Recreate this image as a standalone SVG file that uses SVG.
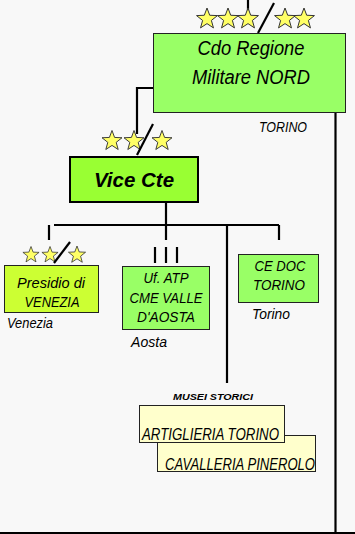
<svg xmlns="http://www.w3.org/2000/svg" width="355" height="534" viewBox="0 0 355 534">
<defs>
<style>
.t{font-family:"Liberation Sans",Arial,sans-serif;font-style:italic;fill:#000}
.ln{stroke:#000;stroke-width:2.2;fill:none}
.star{fill:#ffff66;stroke:#333;stroke-width:0.9}
.box{stroke:#222;stroke-width:1}
</style>
<path id="st" d="M0,-10 L2.47,-3.4 L9.51,-3.09 L3.99,1.3 L5.88,8.09 L0,4.2 L-5.88,8.09 L-3.99,1.3 L-9.51,-3.09 L-2.47,-3.4 Z"/>
</defs>
<rect width="355" height="534" fill="#f8f8f8"/>
<g id="connectors">
<line class="ln" x1="248" y1="0" x2="248" y2="12"/>
<polyline class="ln" points="153,88 137,88 137,134"/>
<line class="ln" x1="335.5" y1="113" x2="335.5" y2="534" stroke-width="3"/>
<line class="ln" x1="166" y1="203" x2="166" y2="240"/>
<line class="ln" x1="54" y1="225" x2="279" y2="225"/>
<line class="ln" x1="279" y1="225" x2="279" y2="240"/>
<line class="ln" x1="49" y1="225" x2="49" y2="240"/>
<line class="ln" x1="227" y1="225" x2="227" y2="383"/>
<line class="ln" x1="155" y1="247" x2="155" y2="263"/>
<line class="ln" x1="166" y1="247" x2="166" y2="263"/>
<line class="ln" x1="177" y1="247" x2="177" y2="263"/>
<line class="ln" x1="0" y1="533" x2="355" y2="533"/>
</g>
<g id="cdo">
<use href="#st" class="star" transform="translate(207,19) scale(1.1)"/>
<use href="#st" class="star" transform="translate(228,19) scale(1.1)"/>
<use href="#st" class="star" transform="translate(248,19) scale(1.1)"/>
<line class="ln" x1="258" y1="33" x2="274" y2="3"/>
<use href="#st" class="star" transform="translate(285,19) scale(1.1)"/>
<use href="#st" class="star" transform="translate(304,19) scale(1.1)"/>
<rect class="box" x="153.5" y="33.5" width="192" height="79" fill="#99ff66"/>
<text class="t" x="251" y="55" font-size="20" text-anchor="middle" textLength="107" lengthAdjust="spacingAndGlyphs">Cdo Regione</text>
<text class="t" x="251" y="84" font-size="20" text-anchor="middle" textLength="118" lengthAdjust="spacingAndGlyphs">Militare NORD</text>
<text class="t" x="259" y="132" font-size="14" textLength="48" lengthAdjust="spacingAndGlyphs">TORINO</text>
</g>
<g id="vice">
<use href="#st" class="star" transform="translate(112,141) scale(1.05)"/>
<use href="#st" class="star" transform="translate(134,141) scale(1.05)"/>
<line class="ln" x1="137" y1="155" x2="153" y2="124"/>
<use href="#st" class="star" transform="translate(162,141) scale(1.05)"/>
<rect x="70" y="157" width="128" height="45" fill="#99ff33" stroke="#000" stroke-width="2"/>
<text class="t" x="134" y="187" font-size="20.5" font-weight="bold" text-anchor="middle">Vice Cte</text>
</g>
<g id="presidio">
<use href="#st" class="star" transform="translate(31,255) scale(0.85)"/>
<use href="#st" class="star" transform="translate(50,255) scale(0.85)"/>
<line class="ln" x1="54" y1="263" x2="70" y2="242"/>
<use href="#st" class="star" transform="translate(77,255) scale(0.9)"/>
<rect class="box" x="4.5" y="265.5" width="94" height="47" fill="#ccff33"/>
<text class="t" x="51" y="288" font-size="15.5" text-anchor="middle" textLength="68" lengthAdjust="spacingAndGlyphs">Presidio di</text>
<text class="t" x="52" y="307" font-size="15.5" text-anchor="middle" textLength="55" lengthAdjust="spacingAndGlyphs">VENEZIA</text>
<text class="t" x="7" y="328" font-size="14.5" textLength="46" lengthAdjust="spacingAndGlyphs">Venezia</text>
</g>
<g id="atp">
<rect class="box" x="122.5" y="266.5" width="87" height="63" fill="#99ff66"/>
<text class="t" x="166" y="283" font-size="15.5" text-anchor="middle" textLength="45" lengthAdjust="spacingAndGlyphs">Uf. ATP</text>
<text class="t" x="166" y="303" font-size="15.5" text-anchor="middle" textLength="73" lengthAdjust="spacingAndGlyphs">CME VALLE</text>
<text class="t" x="166" y="322" font-size="15.5" text-anchor="middle" textLength="58" lengthAdjust="spacingAndGlyphs">D'AOSTA</text>
<text class="t" x="131" y="347" font-size="14.5" textLength="36" lengthAdjust="spacingAndGlyphs">Aosta</text>
</g>
<g id="cedoc">
<rect class="box" x="238.5" y="254.5" width="80" height="48" fill="#99ff66"/>
<text class="t" x="280" y="271" font-size="15.5" text-anchor="middle" textLength="51" lengthAdjust="spacingAndGlyphs">CE DOC</text>
<text class="t" x="279" y="290" font-size="15.5" text-anchor="middle" textLength="52" lengthAdjust="spacingAndGlyphs">TORINO</text>
<text class="t" x="252" y="319" font-size="14.5" textLength="38" lengthAdjust="spacingAndGlyphs">Torino</text>
</g>
<g id="musei">
<text class="t" x="173" y="400" font-size="9.5" font-weight="bold" textLength="80" lengthAdjust="spacingAndGlyphs">MUSEI STORICI</text>
</g>
<g id="cavalleria">
<rect class="box" x="157.5" y="435.5" width="158" height="36" fill="#ffffcc"/>
<text class="t" x="165" y="470" font-size="16" textLength="150" lengthAdjust="spacingAndGlyphs">CAVALLERIA PINEROLO</text>
</g>
<g id="artiglieria">
<rect class="box" x="139.5" y="405.5" width="145" height="37" fill="#ffffcc"/>
<text class="t" x="142" y="440" font-size="16" textLength="137" lengthAdjust="spacingAndGlyphs">ARTIGLIERIA TORINO</text>
</g>
</svg>
